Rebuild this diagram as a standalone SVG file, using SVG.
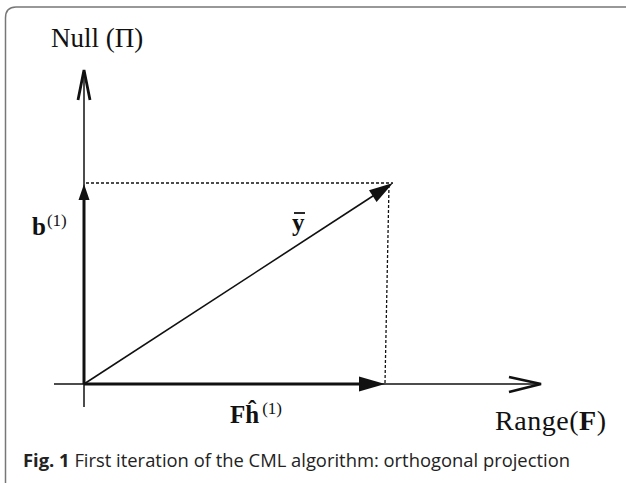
<svg xmlns="http://www.w3.org/2000/svg" width="626" height="483" viewBox="0 0 626 483">
<defs>
<style>
.ax{stroke:#111;stroke-width:1.5;fill:none}
.thick{stroke:#111;stroke-width:3;fill:none}
.thin{stroke:#111;stroke-width:1.6;fill:none}
.dot{stroke:#111;stroke-width:1.3;stroke-dasharray:3,2;fill:none}
.chev{stroke:#111;stroke-width:2.8;fill:none;stroke-linejoin:miter}
.head{fill:#111}
.m{font-family:"Liberation Serif","DejaVu Serif",serif;fill:#111}
.cap{font-family:"Open Sans","Liberation Sans",sans-serif;font-size:18px;fill:#222}
</style>
</defs>
<rect width="626" height="483" fill="#fff"/>
<path d="M5.5,483 V18 Q5.5,7 16,7 H626" fill="none" stroke="#777" stroke-width="1.5"/>
<g id="connectors">
<g id="axes">
<line class="ax" x1="84" y1="407" x2="84" y2="70"/>
<polyline class="chev" points="78,100 84,70 90,100"/>
<line class="ax" x1="54" y1="384" x2="540" y2="384"/>
<polyline class="chev" points="509,377 541,384 509,392"/>
</g>
<g id="projections">
<line class="dot" x1="86" y1="183" x2="393" y2="183"/>
<line class="dot" x1="389" y1="185" x2="385" y2="383"/>
</g>
<g id="vec-b">
<line class="thick" x1="84" y1="384" x2="84" y2="196"/>
<polygon class="head" points="84,184 78.5,200 89.5,200"/>
</g>
<g id="vec-y">
<line class="thin" x1="84" y1="384" x2="376" y2="194"/>
<polygon class="head" points="393,183 376.6,202 369,190.2"/>
</g>
<g id="vec-fh">
<line class="thick" x1="84" y1="384" x2="365" y2="384"/>
<polygon class="head" points="385,384 359,376.5 359,391.5"/>
</g>
</g>
<g id="labels">
<text class="m" x="51" y="47" font-size="27">Null (Π)</text>
<text class="m" x="32" y="235" font-size="25" font-weight="bold">b<tspan font-weight="normal" font-size="17" dx="1" dy="-9">(1)</tspan></text>
<text class="m" x="292" y="231" font-size="25" font-weight="bold">y</text>
<line x1="294" y1="213" x2="305" y2="213" stroke="#111" stroke-width="1.8"/>
<text class="m" x="230" y="423" font-size="25" font-weight="bold">Fĥ<tspan font-weight="normal" font-size="17" dx="3" dy="-9">(1)</tspan></text>
<text class="m" x="495" y="430" font-size="28" textLength="111" lengthAdjust="spacing">Range(<tspan font-weight="bold">F</tspan>)</text>
</g>
<text class="cap" x="23" y="467" textLength="547" lengthAdjust="spacingAndGlyphs"><tspan font-weight="bold">Fig. 1</tspan> First iteration of the CML algorithm: orthogonal projection</text>
</svg>
